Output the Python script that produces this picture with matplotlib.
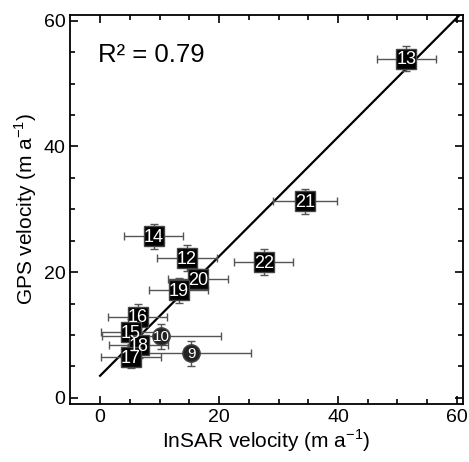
import matplotlib
matplotlib.use("Agg")
import matplotlib.pyplot as plt
from matplotlib import font_manager
import numpy as np

plt.rcParams["font.family"] = ["Liberation Sans", "DejaVu Sans"]

# ── Data ──────────────────────────────────────────────────
labels = ["13", "21", "14", "12", "22", "20", "19", "16", "15", "18", "17", "10", "9"]
insar  = [51.5, 34.5, 9.0, 14.6, 27.5, 16.5, 13.2, 6.3, 5.2, 6.5, 5.2, 10.3, 15.3]
gps    = [54.0, 31.3, 25.7, 22.2, 21.6, 18.9, 17.1, 12.9, 10.5, 8.4, 6.5, 9.8, 7.1]
insar_err = [5.0, 5.4, 5.0, 5.0, 5.0, 5.0, 5.0, 5.0, 5.0, 5.0, 5.0, 10.0, 10.0]
gps_err   = [2.0, 2.0, 2.0, 2.1, 2.0, 1.6, 2.0, 2.0, 2.0, 2.0, 1.8, 2.0, 2.0]
shapes = ["s"] * 11 + ["o", "o"]

fit_slope = 0.95
fit_icpt = 3.5
r2 = 0.79

# narrow font for the point numbers, if available
names = {f.name for f in font_manager.fontManager.ttflist}
num_family = ["Liberation Sans Narrow", "Liberation Sans"] if "Liberation Sans Narrow" in names \
    else ["Liberation Sans"]

fig = plt.figure(figsize=(4.69, 4.62), dpi=100)
ax = fig.add_axes([0.150, 0.1255, 0.837, 0.843])

# regression line
xs = np.array([0.0, 61.0])
ax.plot(xs, fit_icpt + fit_slope * xs, color="black", lw=1.6, zorder=2)

# error bars
ax.errorbar(insar, gps, xerr=insar_err, yerr=gps_err, fmt="none",
            ecolor="#555555", elinewidth=1.0, capsize=3, capthick=1.0, zorder=3)

# markers with white numbers
for x, y, lab, m in zip(insar, gps, labels, shapes):
    if m == "s":
        ax.plot(x, y, marker="s", ms=14, color="black", mec="#444444", zorder=4)
    else:
        ax.plot(x, y, marker="o", ms=12.5, color="#222222", mec="#444444", zorder=4)
    ax.text(x, y - 0.2, lab, color="white", fontsize=13 if m == "s" else 11,
            family=num_family, ha="center", va="center", zorder=5)

ax.text(-0.3, 54.6, f"R\u00b2 = {r2:.2f}", fontsize=18.5, ha="left", va="center")

ax.set_xlim(-5, 61)
ax.set_ylim(-1, 61)
ax.set_xticks([0, 20, 40, 60])
ax.set_yticks([0, 20, 40, 60])
ax.set_xticks(np.arange(0, 61, 5), minor=True)
ax.set_yticks(np.arange(0, 61, 5), minor=True)
ax.tick_params(which="both", direction="in", top=True, right=True)
ax.tick_params(which="major", length=6, width=1.2, labelsize=14)
ax.tick_params(which="minor", length=3.5, width=1.2)
for s in ax.spines.values():
    s.set_linewidth(1.3)

ax.set_xlabel("InSAR velocity (m a$^{\\mathregular{-1}}$)", fontsize=15, labelpad=1)
ax.set_ylabel("GPS velocity (m a$^{\\mathregular{-1}}$)", fontsize=15, labelpad=3)

fig.savefig("out.png", dpi=100)
